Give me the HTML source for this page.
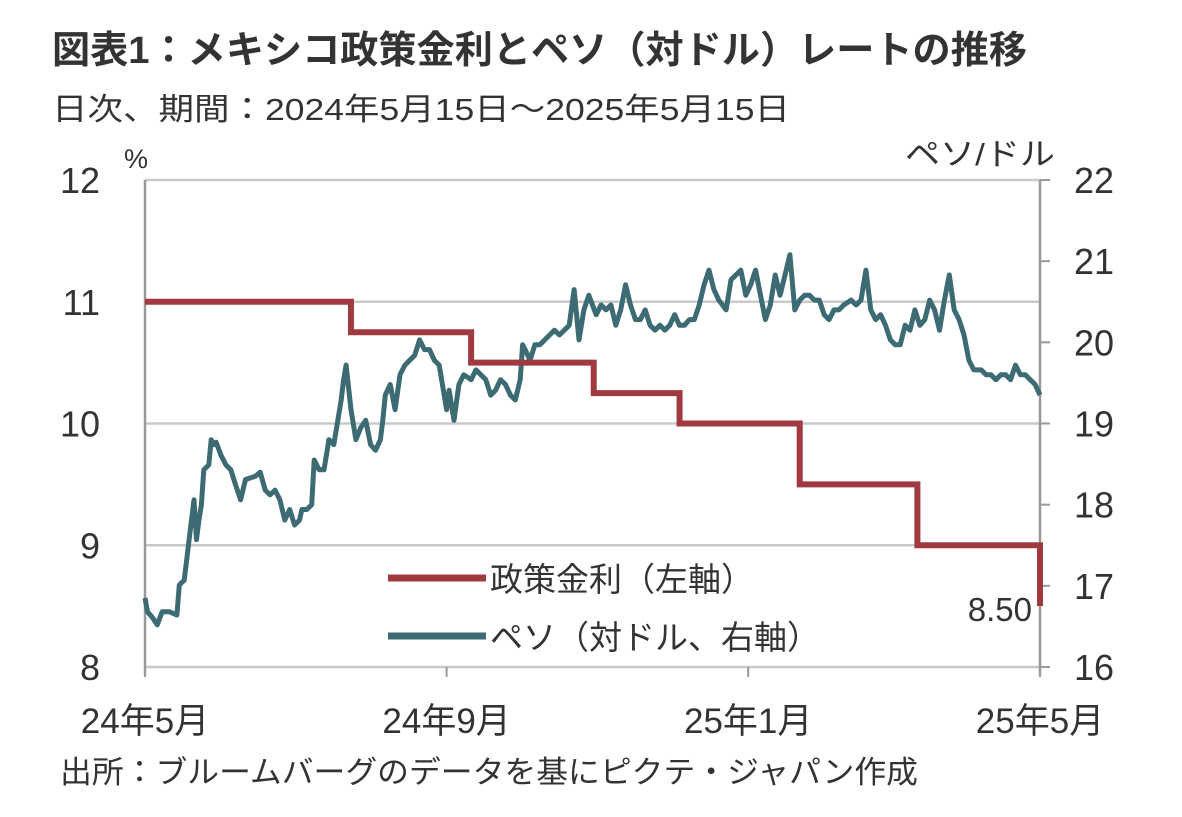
<!DOCTYPE html>
<html><head><meta charset="utf-8">
<style>
body{margin:0;background:#fff;width:1182px;height:812px;overflow:hidden;font-family:"Liberation Sans","Noto Sans CJK JP",sans-serif;color:#333}
svg text{font-family:"Liberation Sans","Noto Sans CJK JP",sans-serif;fill:#333}
</style></head><body>
<svg width="1182" height="812">
<text x="52" y="63" font-size="38" font-weight="bold" textLength="975" lengthAdjust="spacingAndGlyphs">図表1：メキシコ政策金利とペソ（対ドル）レートの推移</text>
<text x="52" y="120" font-size="31" fill="#444" textLength="738" lengthAdjust="spacingAndGlyphs">日次、期間：2024年5月15日～2025年5月15日</text>
<g id="grid"></g>
<g id="axes"></g>
<g id="series"></g>
<text x="124" y="168" font-size="27">%</text>
<text x="905" y="165" font-size="31" textLength="150" lengthAdjust="spacingAndGlyphs">ペソ/ドル</text>
<g>
<line x1="388" y1="578" x2="486" y2="578" stroke="#a03a40" stroke-width="7"/>
<text x="490" y="591" font-size="33">政策金利（左軸）</text>
<line x1="388" y1="636" x2="486" y2="636" stroke="#3d6b73" stroke-width="7"/>
<text x="490" y="649" font-size="33">ペソ（対ドル、右軸）</text>
</g>
<text x="1032" y="621" font-size="33" text-anchor="end">8.50</text>
<text x="60" y="783" font-size="31" fill="#444" textLength="858" lengthAdjust="spacingAndGlyphs">出所：ブルームバーグのデータを基にピクテ・ジャパン作成</text>
</svg>
<script>
const leftTicks=[8,9,10,11,12];
const rightTicks=[16,17,18,19,20,21,22];
const xTickDays=[0,123,246,365];
const xTickLabels=["24年5月","24年9月","25年1月","25年5月"];
const rateDays=[0,84,133,183,218,267,315,365];
const rateValues=[11,10.75,10.5,10.25,10,9.5,9,8.5];
const pesoDays=[0,1,3,5,7,10,13,14,16,17,18,20,21,22,23,24,26,27,28,29,31,33,35,37,39,41,43,45,47,49,51,53,55,57,59,61,63,64,66,68,69,71,73,75,77,80,81,82,84,86,88,90,92,94,96,97,98,100,102,104,106,108,110,112,114,116,118,120,122,123,124,126,128,130,133,135,137,139,141,143,145,147,149,151,153,154,155,157,159,161,163,165,167,169,171,173,175,176,177,179,181,184,186,188,190,192,194,196,198,200,202,204,206,208,210,212,214,216,218,220,222,224,226,228,230,232,234,237,239,241,243,245,247,249,251,253,255,257,259,261,263,265,267,269,271,273,275,277,279,281,283,285,288,290,292,294,296,298,300,302,304,306,308,310,312,314,316,318,320,322,324,326,328,330,332,334,336,338,341,343,345,347,349,351,353,355,357,359,361,363,365];
const pesoValues=[16.85,16.68,16.61,16.52,16.68,16.68,16.64,17.01,17.07,17.32,17.57,18.06,17.57,17.81,18.00,18.43,18.49,18.80,18.74,18.77,18.61,18.49,18.43,18.24,18.06,18.31,18.33,18.35,18.40,18.18,18.12,18.18,18.06,17.81,17.94,17.75,17.81,17.94,17.94,18.00,18.55,18.43,18.43,18.80,18.74,19.29,19.54,19.72,19.17,18.80,18.95,19.04,18.74,18.67,18.80,19.04,19.35,19.48,19.17,19.60,19.72,19.78,19.84,20.03,19.91,19.91,19.78,19.72,19.35,19.17,19.41,19.04,19.48,19.60,19.54,19.66,19.60,19.54,19.35,19.41,19.54,19.48,19.35,19.29,19.54,19.97,19.91,19.78,19.97,19.97,20.03,20.09,20.15,20.09,20.15,20.21,20.65,20.34,20.03,20.40,20.58,20.34,20.46,20.40,20.46,20.21,20.40,20.71,20.46,20.28,20.28,20.40,20.21,20.15,20.21,20.15,20.21,20.34,20.21,20.21,20.28,20.28,20.46,20.71,20.89,20.65,20.52,20.40,20.77,20.83,20.89,20.58,20.71,20.89,20.58,20.28,20.46,20.83,20.58,20.83,21.08,20.40,20.52,20.58,20.58,20.52,20.52,20.34,20.28,20.40,20.40,20.46,20.52,20.46,20.52,20.89,20.40,20.28,20.34,20.21,20.03,19.97,19.97,20.21,20.15,20.40,20.21,20.28,20.52,20.40,20.15,20.52,20.83,20.40,20.28,20.09,19.78,19.66,19.66,19.60,19.60,19.54,19.60,19.60,19.54,19.72,19.60,19.60,19.54,19.48,19.35];

const X0=145,X1=1040,YT=180,YB=667;
const x=d=>X0+d/365*(X1-X0);
const yL=v=>YB-(v-8)/4*(YB-YT);
const yR=v=>YB-(v-16)/6*(YB-YT);
const NS="http://www.w3.org/2000/svg";
function mk(tag,attrs,parent,text){const e=document.createElementNS(NS,tag);for(const k in attrs)e.setAttribute(k,attrs[k]);if(text!==undefined)e.textContent=text;parent.appendChild(e);return e;}
const grid=document.getElementById('grid'),axes=document.getElementById('axes'),ser=document.getElementById('series');
leftTicks.forEach(v=>{
  const l=mk('line',{x1:X0,x2:X1,y1:yL(v),y2:yL(v),stroke:'#c9c9c9','stroke-width':2.5},grid);
  
  
  const t=mk('text',{x:100,y:yL(v)+13,'font-size':36,'text-anchor':'end'},axes,String(v));
  
  
});
rightTicks.forEach(v=>{
  const tk=mk('line',{x1:X1,x2:X1+10,y1:yR(v),y2:yR(v),stroke:'#999','stroke-width':2},axes);
  
  
  const t=mk('text',{x:1074,y:yR(v)+13,'font-size':36},axes,String(v));
  
  
});
const la=mk('line',{x1:X0,x2:X0,y1:YT,y2:YB+8,stroke:'#999','stroke-width':2.5},axes);


const ra=mk('line',{x1:X1,x2:X1,y1:YT,y2:YB+8,stroke:'#999','stroke-width':2.5},axes);


xTickDays.forEach((d,i)=>{
  const tk=mk('line',{x1:x(d),x2:x(d),y1:YB,y2:YB+10,stroke:'#999','stroke-width':2},axes);
  
  
  const t=mk('text',{x:x(d),y:733,'font-size':35,'text-anchor':'middle'},axes,xTickLabels[i]);
  
  
});
let pp='';
pesoDays.forEach((d,i)=>{pp+=(i?'L':'M')+x(d).toFixed(1)+' '+yR(pesoValues[i]).toFixed(1);});
const pl=mk('path',{d:pp,fill:'none',stroke:'#3d6b73','stroke-width':5,'stroke-linejoin':'round'},ser);


let rp='M'+x(rateDays[0])+' '+yL(rateValues[0]);
for(let i=1;i<rateDays.length;i++){rp+='L'+x(rateDays[i])+' '+yL(rateValues[i-1])+'L'+x(rateDays[i])+' '+yL(rateValues[i]);}
const rl=mk('path',{d:rp,fill:'none',stroke:'#a03a40','stroke-width':6},ser);


</script>
</body></html>
